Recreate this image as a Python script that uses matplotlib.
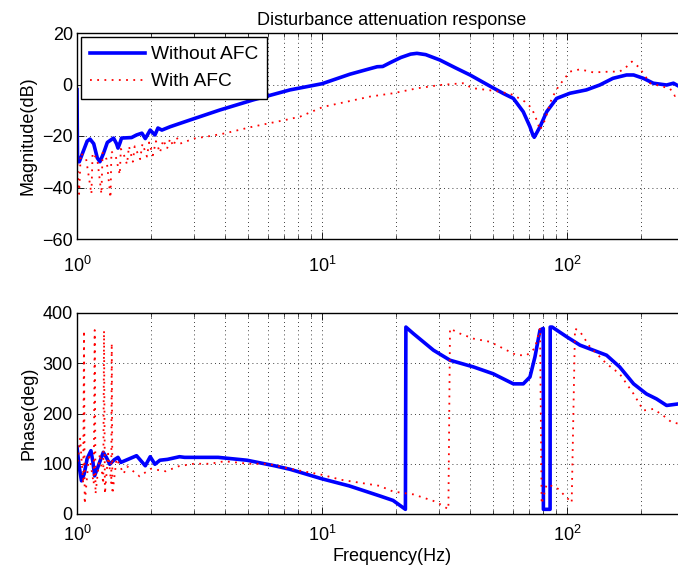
import matplotlib
matplotlib.use("Agg")
import matplotlib.pyplot as plt
from matplotlib.ticker import LogLocator, NullFormatter, FixedLocator

plt.rcParams['font.family'] = ['Liberation Sans', 'DejaVu Sans']
plt.rcParams['mathtext.fontset'] = 'custom'
plt.rcParams['mathtext.rm'] = 'Liberation Sans'
plt.rcParams['mathtext.it'] = 'Liberation Sans'
plt.rcParams['axes.unicode_minus'] = True

# ---- magnitude, without AFC (blue) ----
mag_wo_f = [1.0, 1.005, 1.022, 1.06, 1.10, 1.13, 1.17, 1.21, 1.24, 1.28, 1.33, 1.41,
            1.45, 1.47, 1.50, 1.52, 1.67, 1.75, 1.84, 1.90, 1.99, 2.08, 2.14, 2.22,
            2.40, 2.89, 3.83, 5.23, 7.40, 10.0, 13.0, 15.5, 16.8, 17.7, 19.0, 21.0,
            23.0, 24.4, 26.5, 30.3, 35.0, 40.2, 49.9, 55.0, 60.4, 66.3, 70.6, 72.5,
            73.5, 75.0, 77.6, 82.6, 90.7, 102.8, 120.0, 136.0, 154.0, 175.0, 187.0,
            205.0, 225.0, 255.0, 272.0, 284.0]
mag_wo_db = [-2.0, -30.0, -30.0, -26.0, -22.0, -21.2, -23.0, -28.5, -30.0, -27.0,
             -22.5, -20.8, -23.0, -24.7, -22.5, -20.8, -20.6, -19.6, -18.9, -21.0,
             -17.7, -19.6, -16.9, -17.7, -16.4, -13.8, -9.9, -6.0, -2.1, 0.3, 4.0,
             6.0, 6.9, 7.0, 8.5, 10.5, 11.8, 12.1, 11.6, 9.5, 6.5, 3.7, -1.3, -3.5,
             -5.4, -10.6, -16.4, -19.5, -20.5, -19.0, -16.4, -10.6, -5.4, -3.4, -2.1,
             -0.2, 2.4, 3.7, 3.7, 2.4, 0.5, -0.2, 0.5, -0.5]

# ---- magnitude, with AFC (red) ----
mag_w_f = [1.0, 1.020, 1.036, 1.090, 1.145, 1.158, 1.21, 1.258, 1.272, 1.32, 1.370,
           1.382, 1.44, 1.495, 1.51, 1.55, 1.60, 1.63, 1.69, 1.72, 1.81, 1.85, 1.93,
           1.97, 2.04, 2.10, 2.18, 2.25, 2.33, 2.40, 2.47, 2.55, 2.63, 3.0, 3.5, 4.0,
           5.2, 7.06, 8.13, 10.1, 12.6, 15.7, 19.5, 24.4, 30.3, 37.6, 41.0, 47.1,
           53.3, 60.2, 67.4, 71.8, 75.2, 77.6, 81.3, 86.6, 92.1, 96.6, 102.8, 113.0,
           128.0, 150.0, 164.0, 175.0, 184.0, 195.5, 205.0, 218.0, 232.0, 247.0,
           263.0, 276.0, 284.0]
mag_w_db = [-28.0, -42.5, -26.6, -29.0, -42.5, -26.6, -29.0, -42.5, -26.5, -29.0,
            -44.0, -26.0, -28.0, -35.0, -25.0, -27.0, -31.0, -24.0, -30.0, -24.0,
            -29.0, -23.0, -28.0, -22.5, -27.5, -22.0, -26.5, -21.5, -25.0, -21.0,
            -24.0, -20.5, -23.0, -21.0, -20.0, -19.0, -16.4, -13.8, -12.5, -8.7,
            -6.7, -4.7, -3.4, -1.5, -0.2, 0.5, -1.4, -2.1, -2.8, -4.0, -6.7, -9.2,
            -13.8, -17.7, -13.8, -5.4, -0.9, 1.7, 5.0, 5.9, 4.7, 5.0, 5.0, 6.9, 8.9,
            6.9, 4.3, 0.5, -0.2, -0.9, -1.5, -4.5, -4.0]

# ---- phase, without AFC (blue) ----
ph_wo_f = [1.0, 1.02, 1.043, 1.07, 1.10, 1.14, 1.16, 1.18, 1.22, 1.28, 1.32, 1.36,
           1.42, 1.47, 1.51, 1.75, 1.90, 1.99, 2.08, 2.18, 2.34, 2.62, 2.75, 3.01,
           3.77, 4.94, 6.40, 7.40, 10.0, 12.9, 17.2, 19.5, 21.9, 22.0, 23.6, 28.5,
           33.3, 41.5, 50.0, 60.4, 66.3, 70.6, 74.0, 77.6, 80.0, 80.1, 85.3, 85.4,
           87.0, 99.7, 113.0, 128.0, 145.0, 164.0, 187.0, 211.0, 232.0, 255.0, 284.0]
ph_wo_deg = [133.0, 95.0, 66.0, 80.0, 110.0, 126.0, 105.0, 76.0, 95.0, 122.7, 112.0,
             99.0, 108.0, 112.7, 102.7, 116.0, 96.0, 114.0, 99.0, 107.0, 108.7,
             114.0, 112.7, 112.7, 112.7, 107.0, 96.0, 89.0, 70.0, 56.0, 36.0, 27.0,
             9.3, 372.0, 359.0, 326.0, 306.0, 292.7, 279.0, 259.0, 259.0, 272.7,
             312.7, 366.0, 369.3, 9.3, 9.3, 372.0, 372.0, 352.7, 336.0, 326.0, 316.0,
             292.7, 259.0, 239.0, 229.0, 216.0, 219.0]

# ---- phase, with AFC (red) ----
ph_w_f = [1.0, 1.03, 1.06, 1.068, 1.075, 1.12, 1.17, 1.181, 1.19, 1.24, 1.28, 1.289,
          1.30, 1.34, 1.38, 1.386, 1.395, 1.45, 1.55, 1.6, 1.8, 2.0, 2.3, 2.6, 3.0,
          3.5, 4.0, 5.0, 6.0, 7.4, 10.0, 12.0, 17.2, 19.5, 23.6, 28.5, 30.8, 32.8,
          33.3, 36.6, 41.5, 48.5, 56.7, 62.3, 68.5, 74.0, 77.6, 78.8, 82.6, 90.7,
          99.7, 104.5, 107.8, 113.0, 124.0, 145.0, 164.0, 187.0, 205.0, 225.0,
          247.0, 267.0, 284.0]
ph_w_deg = [90.0, 150.0, 60.0, 365.0, 20.0, 120.0, 60.0, 366.0, 40.0, 120.0, 60.0,
            365.0, 40.0, 120.0, 60.0, 340.0, 40.0, 110.0, 80.0, 95.0, 75.0, 90.0,
            85.0, 95.0, 100.0, 100.0, 105.0, 100.0, 100.0, 90.0, 78.0, 68.0, 56.0,
            44.7, 39.0, 26.0, 18.0, 9.3, 369.0, 359.0, 349.0, 342.7, 326.0, 316.0,
            316.0, 330.0, 370.0, 20.0, 59.0, 52.7, 32.7, 22.7, 369.0, 363.0, 332.7,
            299.0, 279.0, 239.0, 206.0, 209.0, 196.0, 182.7, 180.0]

mag_ticks = [-60, -40, -20, 0, 20]
ph_ticks = [0, 100, 200, 300, 400]

FS = 13
fig = plt.figure(figsize=(6.78, 5.73), dpi=100)
W = 630 / 678
ax1 = fig.add_axes([77 / 678, 1 - 239 / 573, W, 206 / 573])
ax2 = fig.add_axes([77 / 678, 1 - 514 / 573, W, 201 / 573])

xmax = 10 ** (630 / 245)
for ax in (ax1, ax2):
    ax.set_xscale('log')
    ax.set_xlim(1, xmax)
    ax.xaxis.set_major_locator(LogLocator(base=10))
    ax.xaxis.set_minor_locator(LogLocator(base=10, subs=range(2, 10)))
    ax.xaxis.set_minor_formatter(NullFormatter())
    ax.grid(True, which='both', axis='x', color='black', linestyle=(0, (1, 4)), linewidth=0.6)
    ax.grid(True, which='major', axis='y', color='black', linestyle=(0, (1, 4)), linewidth=0.6)
    ax.tick_params(which='both', direction='in', top=True, right=True, labelsize=FS)
    ax.tick_params(which='major', length=5, width=0.6)
    ax.tick_params(which='minor', length=3, width=0.5)
    ax.tick_params(axis='y', pad=3)
    for s in ax.spines.values():
        s.set_linewidth(1.0)

ax1.plot(mag_wo_f, mag_wo_db, color='blue', linewidth=2.6, label='Without AFC')
ax1.plot(mag_w_f, mag_w_db, color='red', linewidth=1.3, linestyle=(0, (1, 3)), label='With AFC')
ax1.set_ylim(-60, 20)
ax1.yaxis.set_major_locator(FixedLocator(mag_ticks))
ax1.set_ylabel('Magnitude(dB)', fontsize=FS, labelpad=4)
ax1.set_title('Disturbance attenuation response', fontsize=FS, pad=6)
ax1.tick_params(axis='x', pad=12)
leg = ax1.legend(loc='upper left', fontsize=13.8, frameon=True, fancybox=False,
                 edgecolor='black', framealpha=1, borderaxespad=0.22,
                 handlelength=2.9, handletextpad=0.3, labelspacing=0.5,
                 borderpad=0.45)
leg.get_frame().set_linewidth(1.0)

ax2.plot(ph_wo_f, ph_wo_deg, color='blue', linewidth=2.6)
ax2.plot(ph_w_f, ph_w_deg, color='red', linewidth=1.3, linestyle=(0, (1, 3)))
ax2.set_ylim(0, 400)
ax2.yaxis.set_major_locator(FixedLocator(ph_ticks))
ax2.set_ylabel('Phase(deg)', fontsize=FS, labelpad=4)
ax2.set_xlabel('Frequency(Hz)', fontsize=FS, labelpad=2)
ax2.tick_params(axis='x', pad=8)

fig.savefig('out.png', dpi=100)
